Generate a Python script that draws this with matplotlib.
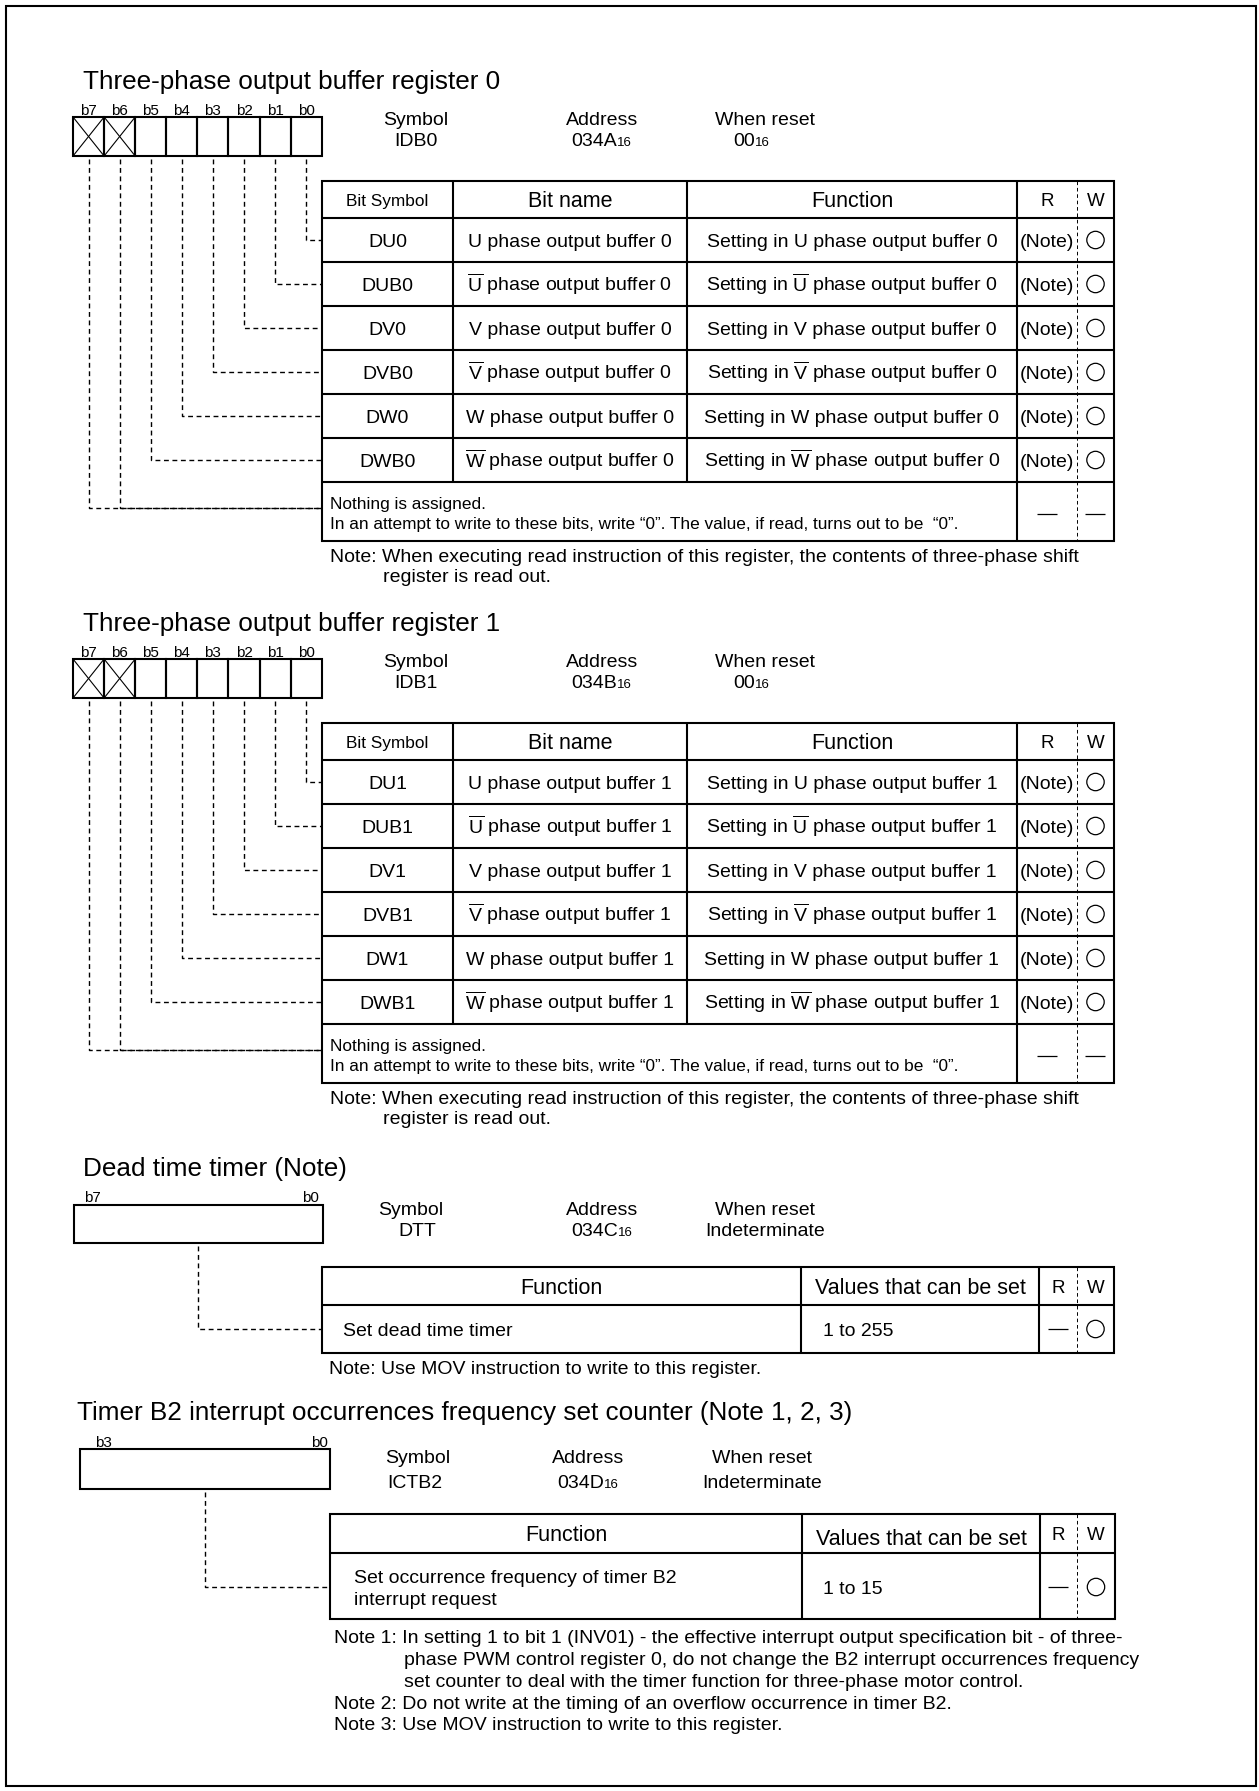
import matplotlib
matplotlib.use('Agg')
import matplotlib.pyplot as plt
from matplotlib.patches import Rectangle, Circle

matplotlib.rc('font', family='Liberation Sans')
matplotlib.rcParams['mathtext.fontset'] = 'custom'
matplotlib.rcParams['mathtext.rm'] = 'Liberation Sans'
matplotlib.rcParams['lines.scale_dashes'] = False

# ---- register data ----
bit_labels = ['b7', 'b6', 'b5', 'b4', 'b3', 'b2', 'b1', 'b0']
unused_bits = ['b7', 'b6']
phase_marks = ['U', r'$\overline{\mathrm{U}}$', 'V', r'$\overline{\mathrm{V}}$',
               'W', r'$\overline{\mathrm{W}}$']

idb_titles = ['Three-phase output buffer register 0', 'Three-phase output buffer register 1']
idb_symbols = ['IDB0', 'IDB1']
idb_addresses = ['034A', '034B']
idb_reset = '00'
idb_bit_symbols = [['DU0', 'DUB0', 'DV0', 'DVB0', 'DW0', 'DWB0'],
                   ['DU1', 'DUB1', 'DV1', 'DVB1', 'DW1', 'DWB1']]
idb_read = '(Note)'
idb_headers = ['Bit Symbol', 'Bit name', 'Function', 'R', 'W']
nothing_lines = ['Nothing is assigned.',
                 'In an attempt to write to these bits, write \u201c0\u201d. '
                 'The value, if read, turns out to be  \u201c0\u201d.']
idb_note = ['Note: When executing read instruction of this register, the contents of three-phase shift',
            'register is read out.']

dtt_title = 'Dead time timer (Note)'
dtt_bits = ['b7', 'b0']
dtt_symbol, dtt_address, dtt_reset = 'DTT', '034C', 'Indeterminate'
dtt_function = ['Set dead time timer']
dtt_values = '1 to 255'
dtt_note = ['Note: Use MOV instruction to write to this register.']

ictb_title = 'Timer B2 interrupt occurrences frequency set counter (Note 1, 2, 3)'
ictb_bits = ['b3', 'b0']
ictb_symbol, ictb_address, ictb_reset = 'ICTB2', '034D', 'Indeterminate'
ictb_function = ['Set occurrence frequency of timer B2', 'interrupt request']
ictb_values = '1 to 15'
ictb_notes = ['Note 1: In setting 1 to bit 1 (INV01) - the effective interrupt output specification bit - of three-',
              'phase PWM control register 0, do not change the B2 interrupt occurrences frequency',
              'set counter to deal with the timer function for three-phase motor control.',
              'Note 2: Do not write at the timing of an overflow occurrence in timer B2.',
              'Note 3: Use MOV instruction to write to this register.']
val_headers = ['Function', 'Values that can be set', 'R', 'W']

# ---- page in pixel units ----
W, H = 1259, 1791
fig = plt.figure(figsize=(W / 100, H / 100), dpi=100)
ax = fig.add_axes([0, 0, 1, 1])
ax.set_xlim(0, W)
ax.set_ylim(H, 0)
ax.axis('off')
renderer = fig.canvas.get_renderer()

PX = 100 / 72.0
LW = 1.5
DASH = (0, (3.5, 2.6))
RWDASH = (0, (2.6, 2.0))
TITLE, BITLBL, META, SUB = 18.8, 11, 14, 9.5
HEAD, HEAD_S, BODY, SMALL, NOTE, RW = 15.5, 12.4, 14, 12.4, 14, 13.5


def txt(x, y, s, size=BODY, ha='center'):
    # y is the middle of the capital letters
    return ax.text(x, y + 0.36 * size * PX, s, fontsize=size, ha=ha, va='baseline')


def base(x, y, s, size, ha='left'):
    return ax.text(x, y, s, fontsize=size, ha=ha, va='baseline')


def hexval(xc, yb, main, sub):
    t = base(0, yb, main, META)
    s = base(0, yb, sub, SUB)
    w1 = t.get_window_extent(renderer).width
    w2 = s.get_window_extent(renderer).width if sub else 0
    x0 = xc - (w1 + w2) / 2
    t.set_x(x0)
    s.set_x(x0 + w1)


def seg(xs, ys, lw=LW, ls='-'):
    ax.plot(xs, ys, color='black', lw=lw, linestyle=ls, solid_capstyle='butt')


def box(x0, y0, x1, y1, lw=LW):
    ax.add_patch(Rectangle((x0, y0), x1 - x0, y1 - y0, fill=False, lw=lw, ec='black'))


def dash_mark(x, y):
    seg([x - 10, x + 10], [y, y], lw=0.9)


def ring(x, y):
    ax.add_patch(Circle((x, y), 8.7, fill=False, lw=0.9, ec='black'))


def meta(yb1, yb2, xs, sym, addr, reset, reset_sub):
    base(xs[0], yb1, 'Symbol', META, 'center')
    base(xs[1], yb2, sym, META, 'center')
    base(xs[2], yb1, 'Address', META, 'center')
    hexval(xs[3], yb2, addr, '16')
    base(xs[4], yb1, 'When reset', META, 'center')
    hexval(xs[5], yb2, reset, reset_sub)


def idb_section(n, dy):
    base(83, 89 + dy, idb_titles[n], TITLE)
    bx0, bw = 73, 31.1
    bt, bb = 117 + dy, 156 + dy
    for j, lbl in enumerate(bit_labels):
        x0 = bx0 + j * bw
        box(x0, bt, x0 + bw, bb)
        base(x0 + bw / 2, 115 + dy, lbl, BITLBL, 'center')
        if lbl in unused_bits:
            seg([x0, x0 + bw], [bt, bb], lw=0.8)
            seg([x0, x0 + bw], [bb, bt], lw=0.8)
    meta(125 + dy, 146 + dy, [416, 416, 602, 602, 765, 752],
         idb_symbols[n], idb_addresses[n], idb_reset, '16')

    tx = [322, 453, 687, 1017, 1114]
    rw = 1077
    ty = [v + dy for v in [181, 218, 262, 306, 350, 394, 438, 482, 541]]
    box(tx[0], ty[0], tx[-1], ty[-1])
    for y in ty[1:-1]:
        seg([tx[0], tx[-1]], [y, y])
    for x in tx[1:3]:
        seg([x, x], [ty[0], ty[-2]])
    seg([tx[3], tx[3]], [ty[0], ty[-1]])
    seg([rw, rw], [ty[0], ty[-1]], lw=0.7, ls=RWDASH)

    hy = (ty[0] + ty[1]) / 2
    col_c = [(tx[0] + tx[1]) / 2, (tx[1] + tx[2]) / 2, (tx[2] + tx[3]) / 2,
             (tx[3] + rw) / 2, (rw + tx[4]) / 2]
    txt(col_c[0], hy, idb_headers[0], HEAD_S)
    txt(col_c[1], hy, idb_headers[1], HEAD)
    txt(col_c[2], hy, idb_headers[2], HEAD)
    txt(col_c[3], hy, idb_headers[3], RW)
    txt(col_c[4], hy, idb_headers[4], RW)

    for r, sym in enumerate(idb_bit_symbols[n]):
        yc = (ty[r + 1] + ty[r + 2]) / 2
        mark = phase_marks[r]
        txt(col_c[0], yc, sym, BODY)
        txt(col_c[1], yc, f'{mark} phase output buffer {n}', BODY)
        txt(col_c[2], yc, f'Setting in {mark} phase output buffer {n}', BODY)
        txt(col_c[3], yc, idb_read, BODY)
        ring(col_c[4], yc)
        # dashed lead from bit r to its row
        xb = bx0 + (7 - r + 0.5) * bw
        seg([xb, xb, tx[0]], [bb + 3, yc, yc], lw=1.0, ls=DASH)

    txt(330, 503 + dy, nothing_lines[0], SMALL, 'left')
    txt(330, 523 + dy, nothing_lines[1], SMALL, 'left')
    dash_mark(col_c[3], 514 + dy)
    dash_mark(col_c[4], 514 + dy)
    for lbl in unused_bits:
        j = bit_labels.index(lbl)
        xb = bx0 + (j + 0.5) * bw
        seg([xb, xb, tx[0]], [bb + 3, 508 + dy, 508 + dy], lw=1.0, ls=DASH)

    txt(330, 555 + dy, idb_note[0], NOTE, 'left')
    txt(383, 575 + dy, idb_note[1], NOTE, 'left')


def value_table(tx, rw, ty, head_y, lead_x, box_bottom, row_y):
    box(tx[0], ty[0], tx[-1], ty[-1])
    seg([tx[0], tx[-1]], [ty[1], ty[1]])
    for x in tx[1:3]:
        seg([x, x], [ty[0], ty[-1]])
    seg([rw, rw], [ty[0], ty[-1]], lw=0.7, ls=RWDASH)
    txt((tx[0] + tx[1]) / 2, head_y[0], val_headers[0], HEAD)
    txt((tx[1] + tx[2]) / 2, head_y[1], val_headers[1], HEAD)
    txt((tx[2] + rw) / 2, head_y[0], val_headers[2], RW)
    txt((rw + tx[3]) / 2, head_y[0], val_headers[3], RW)
    dash_mark((tx[2] + rw) / 2, row_y)
    ring((rw + tx[3]) / 2, row_y)
    seg([lead_x, lead_x, tx[0]], [box_bottom + 3, row_y, row_y], lw=1.0, ls=DASH)


# outer frame
box(6, 6, 1256, 1786)

idb_section(0, 0)
idb_section(1, 542)

# dead time timer
base(83, 1176, dtt_title, TITLE)
box(74, 1205, 323, 1243)
base(84, 1202, dtt_bits[0], BITLBL)
base(319, 1202, dtt_bits[1], BITLBL, 'right')
meta(1215, 1236, [411, 417, 602, 602, 765, 765], dtt_symbol, dtt_address, dtt_reset, '')
value_table([322, 801, 1039, 1114], 1077, [1267, 1305, 1353], (1286, 1286), 198, 1243, 1329)
txt(343, 1329, dtt_function[0], BODY, 'left')
txt(823, 1329, dtt_values, BODY, 'left')
txt(329, 1367, dtt_note[0], NOTE, 'left')

# timer B2 interrupt counter
base(77, 1420, ictb_title, TITLE)
box(80, 1449, 330, 1489)
base(95, 1447, ictb_bits[0], BITLBL)
base(328, 1447, ictb_bits[1], BITLBL, 'right')
meta(1463, 1488, [418, 415, 588, 588, 762, 762], ictb_symbol, ictb_address, ictb_reset, '')
value_table([330, 802, 1040, 1115], 1077, [1514, 1553, 1619], (1533, 1537), 205, 1489, 1587)
txt(354, 1576, ictb_function[0], BODY, 'left')
txt(354, 1598, ictb_function[1], BODY, 'left')
txt(823, 1587, ictb_values, BODY, 'left')
note_x = [334, 404, 404, 334, 334]
note_y = [1636, 1658, 1680, 1702, 1723]
for x, y, line in zip(note_x, note_y, ictb_notes):
    txt(x, y, line, NOTE, 'left')

plt.savefig('out.png', dpi=100)
